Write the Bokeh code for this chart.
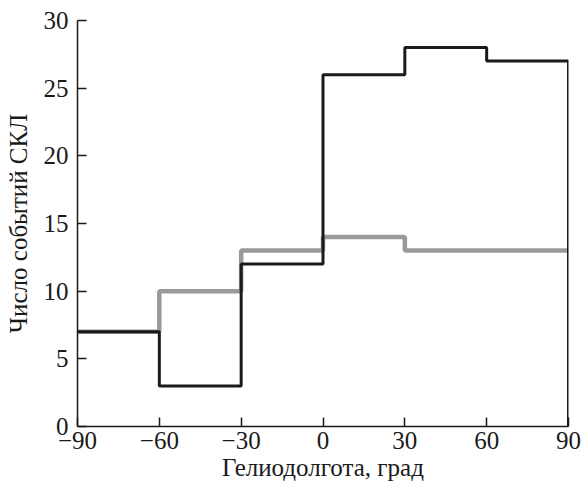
from bokeh.plotting import figure
from bokeh.models import Range1d, FixedTicker, CustomJSTickFormatter
from bokeh.embed import file_html
from bokeh.resources import INLINE

edges = [-90, -60, -30, 0, 30, 60, 90]
black_counts = [7, 3, 12, 26, 28, 27]
gray_counts = [7, 10, 13, 14, 13, 13]
x_ticks = [-90, -60, -30, 0, 30, 60, 90]
y_ticks = [0, 5, 10, 15, 20, 25, 30]

FONT = "Liberation Serif"

p = figure(width=581, height=486, output_backend="svg", toolbar_location=None,
           x_range=Range1d(-90, 90), y_range=Range1d(0, 30),
           min_border_left=77, min_border_right=13, min_border_top=20, min_border_bottom=60)
p.outline_line_color = None
p.xgrid.visible = False
p.ygrid.visible = False

gx = edges + []
gy = gray_counts + [gray_counts[-1]]
p.step(gx, gy, mode="after", line_color="#9a9a9a", line_width=4.5)

bx = edges + [edges[-1]]
by = black_counts + [black_counts[-1], 0]
p.step(bx, by, mode="after", line_color="#1a1a1a", line_width=3)

fmt = CustomJSTickFormatter(code="return String(tick).replace('-', '\\u2212');")

for ax, ticks in ((p.xaxis[0], x_ticks), (p.yaxis[0], y_ticks)):
    ax.ticker = FixedTicker(ticks=ticks)
    ax.formatter = fmt
    ax.major_tick_in = 9
    ax.major_tick_out = 0
    ax.minor_tick_line_color = None
    ax.axis_line_color = "#1a1a1a"
    ax.axis_line_width = 1.5
    ax.major_tick_line_color = "#1a1a1a"
    ax.major_tick_line_width = 1.5
    ax.major_label_text_font = FONT
    ax.major_label_text_font_size = "25px"
    ax.major_label_text_color = "#1a1a1a"
    ax.axis_label_text_font = FONT
    ax.axis_label_text_font_size = "25px"
    ax.axis_label_text_font_style = "normal"
    ax.axis_label_text_color = "#1a1a1a"

p.xaxis.axis_label = "Гелиодолгота, град"
p.yaxis.axis_label = "Число событий СКЛ"
p.xaxis.major_label_standoff = 5
p.yaxis.major_label_standoff = 9
p.xaxis.axis_label_standoff = 2
p.yaxis.axis_label_standoff = 9

open("out.html", "w").write(file_html(p, INLINE))
